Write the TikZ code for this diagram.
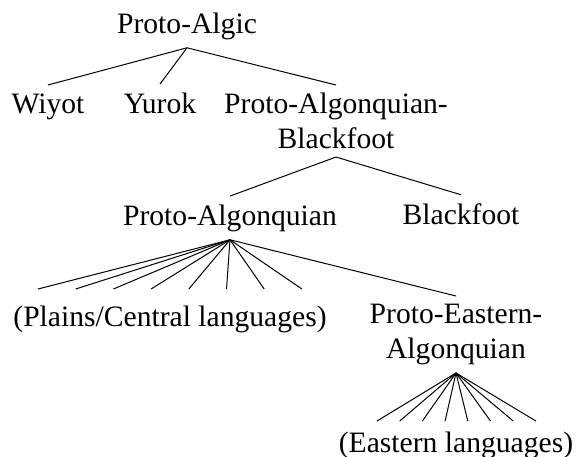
\documentclass[tikz,border=0pt]{standalone}
\usepackage{fontspec}
\setmainfont{Liberation Serif}
\begin{document}
\begin{tikzpicture}[x=0.5pt,y=-0.5pt,
  lang/.style={inner xsep=0pt,inner ysep=4pt,font=\fontsize{14.8}{17.2}\selectfont},
  branch/.style={line width=0.5pt}]
  \useasboundingbox (0,0) rectangle (577,456);
  % top level
  \node[lang,anchor=base] (algic) at (187,33) {Proto-Algic};
  \node[lang,anchor=base] (wiyot) at (48,113) {Wiyot};
  \node[lang,anchor=base] (yurok) at (160,113) {Yurok};
  \node[lang,anchor=north,align=center] (pab) at (336,85) {Proto-Algonquian-\\Blackfoot};
  \draw[branch] (algic.south) -- (wiyot.north);
  \draw[branch] (algic.south) -- (yurok.north);
  \draw[branch] (algic.south) -- (pab.north);
  % second level
  \node[lang,anchor=base] (pa) at (230,225) {Proto-Algonquian};
  \node[lang,anchor=base] (blackfoot) at (461,224) {Blackfoot};
  \draw[branch] (pab.south) -- (pa.north);
  \draw[branch] (pab.south) -- (blackfoot.north);
  % third level
  \node[lang,anchor=base] (plains) at (170,326) {(Plains/Central languages)};
  \node[lang,anchor=north,align=center] (pea) at (456,296) {Proto-Eastern-\\Algonquian};
  \foreach \i in {0,...,7}
    \coordinate (pc\i) at ({38+37.7*\i},289);
  \foreach \i in {0,...,7}
    \draw[branch] (pa.south) -- (pc\i);
  \draw[branch] (pa.south) -- (pea.north);
  % eastern languages
  \node[lang,anchor=base] (eastern) at (456,452) {(Eastern languages)};
  \foreach \i in {0,...,7}
    \coordinate (ec\i) at ({377+22.7*\i},421);
  \foreach \i in {0,...,7}
    \draw[branch] (pea.south) -- (ec\i);
\end{tikzpicture}
\end{document}
